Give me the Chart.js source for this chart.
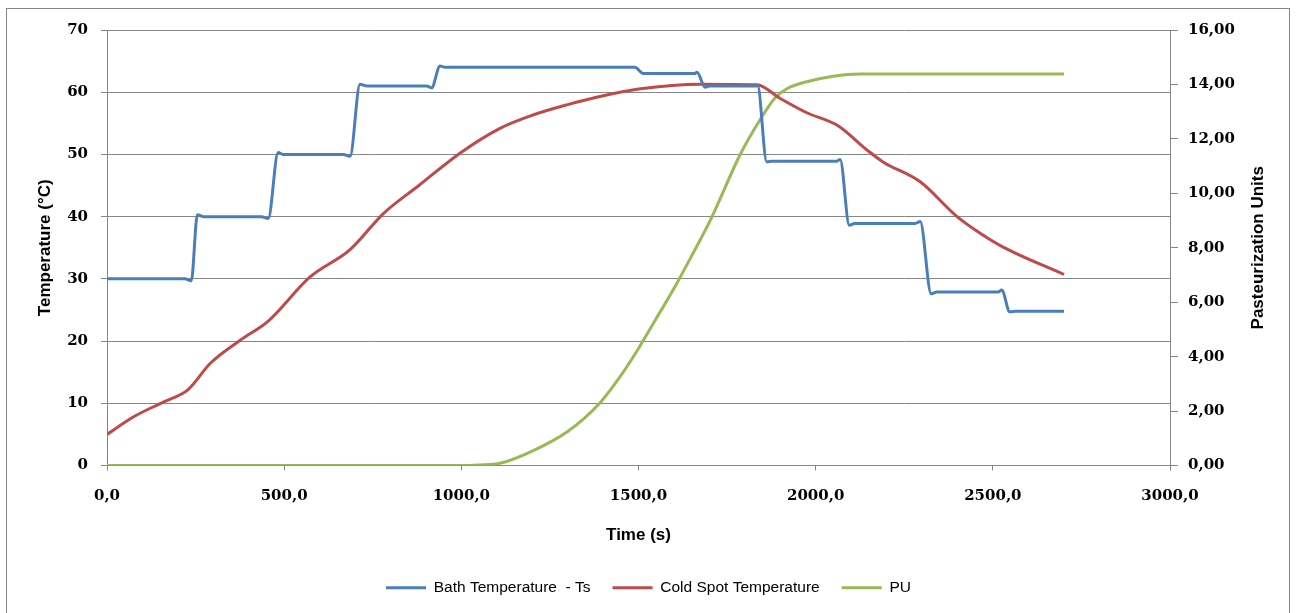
<!DOCTYPE html>
<html>
<head>
<meta charset="utf-8">
<title>Pasteurization</title>
<script src="https://cdn.jsdelivr.net/npm/chart.js@4/dist/chart.umd.min.js"></script>
<style>
  html, body { margin: 0; padding: 0; background: #fff; }
  canvas { display: block; }
</style>
</head>
<body>
<canvas id="pasteur-chart" width="1296" height="613"></canvas>
<script>
// bath temperature (blue)
const bathTime = [0, 220, 238, 255, 272, 436, 455, 483, 497, 667, 686, 714, 733,
  902, 916, 940, 954, 1490, 1514, 1658, 1665, 1688, 1700, 1832, 1836, 1862, 1875,
  2059, 2069, 2095, 2110, 2281, 2295, 2326, 2342, 2516, 2525, 2548, 2565, 2701];
const bathTemp = [30, 30, 29.7, 40.3, 40, 40, 39.7, 50.3, 50, 50, 49.7, 61.3, 61,
  61, 60.7, 64.2, 64, 64, 63, 63, 63.2, 60.8, 61, 61, 61.1, 48.8, 48.9,
  48.9, 49.2, 38.6, 38.9, 38.9, 39.2, 27.6, 27.9, 27.9, 28.2, 24.7, 24.8, 24.8];

// cold spot temperature (red)
const coldTime = [0, 74, 159, 229, 291, 375, 455, 573, 686, 780, 880, 996, 1109,
  1200, 1300, 1391, 1500, 1674, 1834, 1900, 1975, 2063, 2145, 2190, 2295, 2399,
  2473, 2529, 2701];
const coldTemp = [5, 7.8, 10.2, 12.2, 16.4, 20.1, 23.2, 30.3, 34.7, 40.5, 45, 50.2, 54.2,
  56.3, 58.0, 59.3, 60.5, 61.3, 61.2, 59.0, 56.7, 54.6, 50.7, 48.8, 45.6, 40.0,
  37.0, 35.1, 30.7];

// pasteurization units (green, right axis)
const puTime = [0, 1000, 1050, 1109, 1203, 1300, 1391, 1450, 1500, 1550, 1600, 1650,
  1706, 1786, 1843, 1885, 1920, 1975, 2050, 2125, 2701];
const puValue = [0, 0, 0.02, 0.08, 0.55, 1.25, 2.3, 3.3, 4.3, 5.4, 6.5, 7.7,
  9.1, 11.4, 12.7, 13.5, 13.85, 14.1, 14.3, 14.38, 14.38];

const legendLabels = ['Bath Temperature  - Ts', 'Cold Spot Temperature', 'PU'];
const xTitle = 'Time (s)';
const yTitle = 'Temperature (°C)';
const y2Title = 'Pasteurization Units';

const gray = '#868686';
const tickFont = { family: 'DejaVu Serif', size: 15, weight: 'bold' };
const titleFont = { family: 'Liberation Sans', size: 17, weight: 'bold' };

const toPoints = (xs, ys) => xs.map((x, i) => ({ x, y: ys[i] }));
const comma = (v, digits) => v.toFixed(digits).replace('.', ',');

// grey frame round the whole chart, like the spreadsheet export
const framePlugin = {
  id: 'frame',
  beforeDraw: (chart) => {
    const { ctx } = chart;
    ctx.save();
    ctx.strokeStyle = gray;
    ctx.lineWidth = 1;
    ctx.strokeRect(6.5, 8.5, 1283, 620);
    ctx.restore();
  },
};

// right title reads bottom to top, chart.js would turn it the other way
const rightTitlePlugin = {
  id: 'rightTitle',
  afterDraw: (chart) => {
    const { ctx, chartArea } = chart;
    ctx.save();
    ctx.translate(1258, (chartArea.top + chartArea.bottom) / 2);
    ctx.rotate(-Math.PI / 2);
    ctx.font = 'bold 17px "Liberation Sans"';
    ctx.fillStyle = '#000';
    ctx.textAlign = 'center';
    ctx.textBaseline = 'middle';
    ctx.fillText(y2Title, 0, 0);
    ctx.restore();
  },
};

Chart.defaults.color = '#000';

const ctx = document.getElementById('pasteur-chart').getContext('2d');
new Chart(ctx, {
  type: 'line',
  data: {
    datasets: [
      {
        label: legendLabels[0],
        data: toPoints(bathTime, bathTemp),
        borderColor: '#4A7EBB',
        backgroundColor: '#4A7EBB',
        borderWidth: 3,
        yAxisID: 'y',
      },
      {
        label: legendLabels[1],
        data: toPoints(coldTime, coldTemp),
        borderColor: '#BE4B48',
        backgroundColor: '#BE4B48',
        borderWidth: 3,
        yAxisID: 'y',
      },
      {
        label: legendLabels[2],
        data: toPoints(puTime, puValue),
        borderColor: '#98B954',
        backgroundColor: '#98B954',
        borderWidth: 3,
        yAxisID: 'y2',
      },
    ],
  },
  options: {
    responsive: false,
    animation: false,
    layout: { padding: { left: 7, right: 6, top: 30, bottom: 7.5 } },
    elements: {
      line: { cubicInterpolationMode: 'monotone', fill: false },
      point: { radius: 0, hoverRadius: 0 },
    },
    plugins: {
      tooltip: { enabled: false },
      legend: {
        position: 'bottom',
        labels: {
          usePointStyle: true,
          pointStyle: 'line',
          pointStyleWidth: 40,
          padding: 22,
          font: { family: 'Liberation Sans', size: 15.5 },
          color: '#000',
        },
      },
    },
    scales: {
      x: {
        type: 'linear',
        min: 0,
        max: 3000,
        afterFit: (scale) => { scale.height = 92.5; },
        ticks: {
          stepSize: 500,
          autoSkip: false,
          maxRotation: 0,
          padding: 17,
          font: tickFont,
          callback: (v) => comma(v, 1),
        },
        grid: { drawOnChartArea: false, tickLength: 5, color: gray },
        border: { color: gray },
        title: { display: true, text: xTitle, font: titleFont, padding: { top: 0, bottom: 12.3 } },
      },
      y: {
        position: 'left',
        min: 0,
        max: 70,
        afterFit: (scale) => { scale.width = 100; },
        ticks: { stepSize: 10, padding: 13, font: tickFont },
        grid: { color: gray, tickLength: 6 },
        border: { color: gray },
        title: { display: true, text: yTitle, font: titleFont, padding: { top: 28, bottom: 0 } },
      },
      y2: {
        position: 'right',
        min: 0,
        max: 16,
        afterFit: (scale) => { scale.width = 120; },
        ticks: { stepSize: 2, padding: 10, font: tickFont, callback: (v) => comma(v, 2) },
        grid: { drawOnChartArea: false, color: gray, tickLength: 8 },
        border: { color: gray },
      },
    },
  },
  plugins: [framePlugin, rightTitlePlugin],
});
</script>
</body>
</html>
